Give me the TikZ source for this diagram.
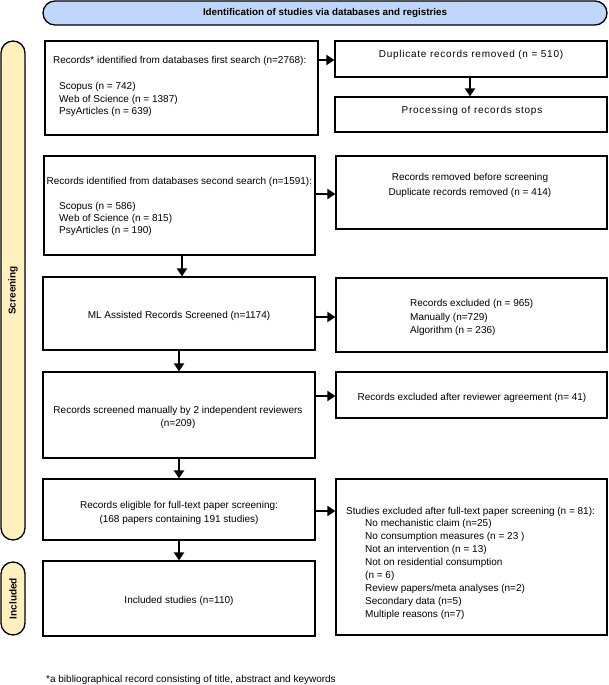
\documentclass[tikz,border=0pt]{standalone}
\usepackage{fontspec}
\setmainfont{Liberation Sans}
\usetikzlibrary{arrows.meta}
\definecolor{bannerblue}{RGB}{191,215,250}
\definecolor{baryellow}{RGB}{255,241,190}
\newcommand{\bodyfs}{\fontsize{10}{13}\selectfont}
\begin{document}
\begin{tikzpicture}[x=1pt,y=-1pt,
  box/.style={draw=black, line width=1.3pt, rectangle, inner sep=0pt},
  banner/.style={draw=black, line width=1.3pt, fill=bannerblue, rounded corners=12pt,
    minimum width=564pt, minimum height=24pt, inner sep=0pt,
    font=\bfseries\fontsize{9.8}{12}\selectfont},
  sidebar/.style={draw=black, line width=1.3pt, fill=baryellow, rounded corners=12pt,
    minimum height=24pt, inner sep=0pt, rotate=90,
    font=\bfseries\fontsize{10}{12}\selectfont},
  txt/.style={inner sep=0pt, font=\bodyfs},
  spaced/.style={inner sep=0pt, font=\bodyfs\addfontfeature{LetterSpace=7.5}},
  arr/.style={line width=2.6pt, -{Triangle[width=10pt,length=8pt]}}]
\useasboundingbox (0,0) rectangle (609,685);

% banner and side bars
\node[banner] (ban) at (325,13) {Identification of studies via databases and registries};
\node[sidebar, minimum width=499pt] (scr) at (13,290.5) {Screening};
\node[sidebar, minimum width=73pt] (inc) at (13,598.5) {Included};

% left column boxes
\node[box, minimum width=273pt, minimum height=94pt] (b1) at (181.5,88) {};
\node[box, minimum width=271pt, minimum height=99pt] (b2) at (179.5,205.5) {};
\node[box, minimum width=272pt, minimum height=73pt] (b3) at (179,313.5) {};
\node[box, minimum width=272pt, minimum height=86pt] (b4) at (179,415) {};
\node[box, minimum width=272pt, minimum height=61pt] (b5) at (179,509.5) {};
\node[box, minimum width=272pt, minimum height=75pt] (b6) at (179,598.5) {};

% right column boxes
\node[box, minimum width=272pt, minimum height=36pt] (d1) at (471,59) {};
\node[box, minimum width=272pt, minimum height=35pt] (p1) at (471,114.5) {};
\node[box, minimum width=271pt, minimum height=73pt] (r2) at (471.5,192.5) {};
\node[box, minimum width=271pt, minimum height=74pt] (r3) at (471.5,315) {};
\node[box, minimum width=271pt, minimum height=46pt] (r4) at (471.5,395) {};
\node[box, minimum width=271pt, minimum height=156pt] (r5) at (471.5,557) {};

% texts
\node[txt, anchor=west] (b1h) at (53,61) {Records* identified from databases first search (n=2768):};
\node[txt, anchor=west, align=left, font=\fontsize{10}{12.5}\selectfont] (b1l) at (59,99.5)
  {Scopus (n = 742)\\Web of Science (n = 1387)\\PsyArticles (n = 639)};
\node[txt, anchor=west] (b2h) at (46.5,182) {Records identified from databases second search (n=1591):};
\node[txt, anchor=west, align=left, font=\fontsize{10}{12}\selectfont] (b2l) at (59,219)
  {Scopus (n = 586)\\Web of Science (n = 815)\\PsyArticles (n = 190)};
\node[txt] (b3t) at (179,316) {ML Assisted Records Screened (n=1174)};
\node[txt, align=center, font=\fontsize{10}{13}\selectfont] (b4t) at (178,417.5)
  {Records screened manually by 2 independent reviewers\\(n=209)};
\node[txt, align=center, font=\fontsize{10}{14.5}\selectfont] (b5t) at (179,512.75)
  {Records eligible for full-text paper screening:\\(168 papers containing 191 studies)};
\node[txt] (b6t) at (179,601) {Included studies (n=110)};

\node[spaced] (d1t) at (471,55) {Duplicate records removed (n = 510)};
\node[spaced] (p1t) at (472,111) {Processing of records stops};
\node[txt, align=center, font=\fontsize{10}{14.5}\selectfont] (r2t) at (470,185.5)
  {Records removed before screening\\Duplicate records removed (n = 414)};
\node[txt, anchor=west, align=left, font=\fontsize{10}{13.5}\selectfont] (r3t) at (410,317.5)
  {Records excluded (n = 965)\\Manually (n=729)\\Algorithm (n = 236)};
\node[txt] (r4t) at (472,397.5) {Records excluded after reviewer agreement (n= 41)};
\node[txt, anchor=west] (r5h) at (346,511.5) {Studies excluded after full-text paper screening (n = 81):};
\node[txt, anchor=west, align=left, font=\fontsize{10}{12.9}\selectfont] (r5l) at (365,569.5)
  {No mechanistic claim (n=25)\\No consumption measures (n = 23 )\\Not an intervention (n = 13)\\Not on residential consumption\\(n = 6)\\Review papers/meta analyses (n=2)\\Secondary data (n=5)\\Multiple reasons (n=7)};

\node[txt, anchor=west] (fn) at (46,680) {*a bibliographical record consisting of title, abstract and keywords};

% connectors
\draw[arr] (b1.east |- 0,60) -- (d1.west |- 0,60);
\draw[arr] (d1.south -| 470,0) -- (p1.north -| 470,0);
\draw[arr] (b2.east |- 0,194) -- (r2.west |- 0,194);
\draw[arr] (b2.south -| 182,0) -- (b3.north -| 182,0);
\draw[arr] (b3.east |- 0,317) -- (r3.west |- 0,317);
\draw[arr] (b3.south -| 179,0) -- (b4.north -| 179,0);
\draw[arr] (b4.east |- 0,396) -- (r4.west |- 0,396);
\draw[arr] (b4.south -| 179,0) -- (b5.north -| 179,0);
\draw[arr] (b5.east |- 0,511) -- (r5.west |- 0,511);
\draw[arr] (b5.south -| 179,0) -- (b6.north -| 179,0);
\end{tikzpicture}
\end{document}
